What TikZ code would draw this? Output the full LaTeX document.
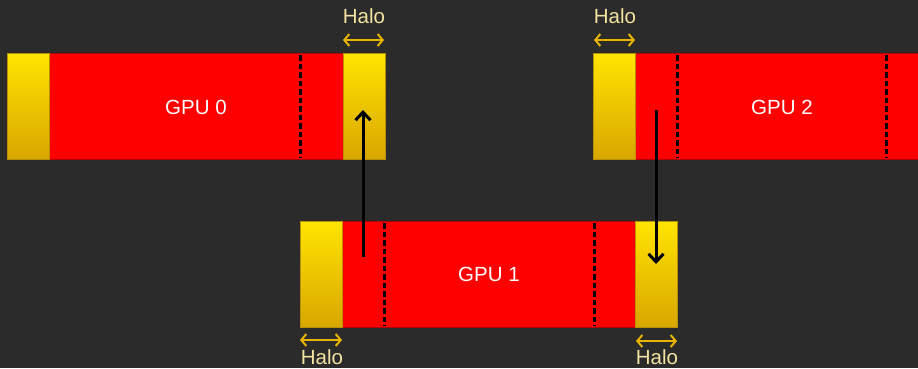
\documentclass[tikz,border=0pt]{standalone}
\usepackage{fontspec}
\setmainfont{Liberation Sans}
\usetikzlibrary{arrows.meta}
\definecolor{bg}{HTML}{2B2B2B}
\definecolor{halotxt}{HTML}{F3E2A0}
\definecolor{haloarr}{HTML}{E8B400}
\definecolor{ytop}{HTML}{FFE400}
\definecolor{ybot}{HTML}{D8A600}
\definecolor{yedge}{HTML}{B88F00}
\tikzset{
  halobox/.style={draw=yedge, line width=0.6pt, top color=ytop, bottom color=ybot, minimum width=42pt, minimum height=106pt, inner sep=0pt, anchor=north west},
  redbox/.style={fill=red, draw=red!70!black, line width=0.4pt, inner sep=0pt, anchor=north west, minimum height=106pt},
  divider/.style={black, line width=3pt, dash pattern=on 5.5pt off 3pt},
  gpulabel/.style={text=white, font=\fontsize{20.5}{20.5}\selectfont},
  halolabel/.style={text=halotxt, font=\fontsize{20.5}{20.5}\selectfont},
  haloarrow/.style={haloarr, line width=2pt, {Straight Barb[length=5pt,width=12pt]}-{Straight Barb[length=5pt,width=12pt]}},
  xfer/.style={black, line width=3pt, -{Straight Barb[length=8pt,width=15pt]}}
}
\begin{document}
\begin{tikzpicture}[x=1pt,y=-1pt]
\fill[bg] (0,0) rectangle (918,368);
\useasboundingbox (0,0) rectangle (918,368);
% GPU 0
\node[redbox, minimum width=294pt] (r0) at (49,53) {};
\node[halobox] (h0l) at (7,53) {};
\node[halobox] (h0r) at (343,53) {};
\draw[divider] (300,55) -- (300,158);
\node[gpulabel] (g0) at (196,107) {GPU 0};
% GPU 2
\node[redbox, minimum width=290pt] (r2) at (635,53) {};
\node[halobox] (h2l) at (593,53) {};
\draw[divider] (677,55) -- (677,158);
\draw[divider] (886,55) -- (886,158);
\node[gpulabel] (g2) at (782,107) {GPU 2};
% GPU 1
\node[redbox, minimum width=293pt] (r1) at (342,221) {};
\node[halobox] (h1l) at (300,221) {};
\node[halobox] (h1r) at (635,221) {};
\draw[divider] (384,223) -- (384,326);
\draw[divider] (594,223) -- (594,326);
\node[gpulabel] (g1) at (489,274) {GPU 1};
% transfers
\coordinate (a1s) at (363,257);
\coordinate (a1e) at (363,110);
\draw[xfer] (a1s) -- (a1e);
\coordinate (a2s) at (656,110);
\coordinate (a2e) at (656,264);
\draw[xfer] (a2s) -- (a2e);
% halo labels
\node[halolabel] (l0) at (364,16) {Halo};
\coordinate (l0a) at (343,40); \coordinate (l0b) at (384,40);
\draw[haloarrow] (l0a) -- (l0b);
\node[halolabel] (l2) at (615,16) {Halo};
\coordinate (l2a) at (594,40); \coordinate (l2b) at (635,40);
\draw[haloarrow] (l2a) -- (l2b);
\node[halolabel] (l1a) at (322,357) {Halo};
\coordinate (l1aa) at (300,340); \coordinate (l1ab) at (342,340);
\draw[haloarrow] (l1aa) -- (l1ab);
\node[halolabel] (l1b) at (657,357) {Halo};
\coordinate (l1ba) at (636,341); \coordinate (l1bb) at (677,341);
\draw[haloarrow] (l1ba) -- (l1bb);
\end{tikzpicture}
\end{document}
